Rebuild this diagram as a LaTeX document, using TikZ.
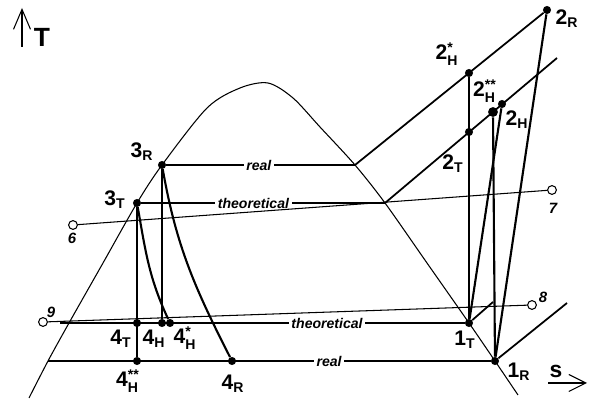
\documentclass[tikz,border=0pt]{standalone}
\usepackage{amsmath}
\usepackage{fontspec}
\setmainfont{Liberation Sans}
\usetikzlibrary{arrows.meta}

\newcommand{\ptlab}[2]{#1$_{\text{#2}}$}
\newcommand{\ptlabs}[3]{#1$_{\text{#2}}^{\text{#3}}$}

\begin{document}
\begin{tikzpicture}[x=0.2cm, y=0.2cm,
    pt/.style={circle, fill, inner sep=0pt, minimum size=4.6pt},
    bigpt/.style={circle, fill, inner sep=0pt, minimum size=5.6pt},
    opt/.style={circle, draw, fill=white, inner sep=0pt, minimum size=5pt, line width=0.6pt},
    lab/.style={font=\bfseries\fontsize{12}{14}\selectfont, inner sep=0pt},
    num/.style={font=\bfseries\itshape\fontsize{8.5}{10}\selectfont, inner sep=0pt},
    tag/.style={font=\bfseries\itshape\fontsize{8}{10}\selectfont, fill=white, inner sep=1.5pt},
    cyc/.style={line width=1.2pt},
    iso/.style={line width=1pt},
    fine/.style={line width=0.6pt}]
    \useasboundingbox (0,0) rectangle (58.9,40);

    % axes
    \draw[fine, -{Straight Barb[length=4mm, width=3.4mm]}] (2.2,35.3) -- (2.2,39.2);
    \node[lab, font=\bfseries\fontsize{15}{17}\selectfont] (Tax) at (4.2,36.3) {T};
    \draw[fine, -{Straight Barb[length=3.4mm, width=3.4mm]}] (54.8,1.7) -- (58.7,1.7);
    \node[lab, font=\bfseries\fontsize{13}{15}\selectfont] (sax) at (55.6,2.9) {s};

    % saturation dome
    \draw[fine] plot[smooth] coordinates {(2.9,0.2) (4.8,3.9) (6.9,7.7) (10.3,13.7) (13.7,19.7)
        (16.2,23.5) (20.7,29.2) (24.0,31.2) (26.8,31.7) (29.3,30.2) (32.0,27.3) (35.5,23.5)
        (38.5,19.7) (42.7,13.7) (46.9,7.7) (49.5,3.9) (51.8,0.5)};

    % state points
    \node[pt] (3R) at (16.2,23.5) {};
    \node[pt] (3T) at (13.7,19.7) {};
    \node[pt] (4T) at (13.7,7.7) {};
    \node[pt] (4H) at (16.2,7.7) {};
    \node[pt] (4Hs) at (17.0,7.7) {};
    \node[pt] (4Hss) at (13.7,3.9) {};
    \node[pt] (4R) at (23.2,3.9) {};
    \node[pt] (1T) at (46.9,7.7) {};
    \node[pt] (1R) at (49.5,3.9) {};
    \node[pt] (2T) at (46.9,26.8) {};
    \node[pt] (2Hs) at (46.9,32.7) {};
    \node[bigpt] (2Hss) at (49.3,28.8) {};
    \node[pt] (2H) at (50.2,29.6) {};
    \node[pt] (2R) at (54.7,39.0) {};
    \coordinate (d1) at (35.5,23.5);
    \coordinate (d2) at (38.5,19.7);
    \coordinate (e1) at (49.3,9.8);
    \coordinate (e2) at (55.7,34.2);
    \coordinate (e3) at (56.7,9.7);
    \coordinate (a1) at (4.8,3.9);
    \coordinate (a2) at (6.0,7.7);

    % isobars
    \draw[cyc] (3R) -- node[tag, pos=0.49] (real1) {real} (d1);
    \draw[cyc] (3T) -- node[tag, pos=0.46] (theo1) {theoretical} (d2);
    \draw[cyc] (a2) -- node[tag, pos=0.66] (theo2) {theoretical} (1T);
    \draw[cyc] (a1) -- node[tag, pos=0.635] (real2) {real} (1R);
    \draw[iso] (d1) -- (2R);
    \draw[iso] (d2) -- (e2);
    \draw[iso] (1T) -- (e1);
    \draw[iso] (1R) -- (e3);

    % compression and expansion
    \draw[cyc] (1T) -- (2Hs);
    \draw[cyc] (1T) -- (2H);
    \draw[cyc] (1R) -- (2Hss);
    \draw[cyc] (1R) -- (2R);
    \draw[cyc] (3T) -- (4Hss);
    \draw[cyc] (3R) -- (4H);
    \draw[cyc] (3T) to[out=-80, in=115] (4Hs);
    \draw[cyc] (3R) to[out=-80, in=117] (4R);

    % cooling media
    \node[opt] (p6) at (7.3,17.5) {};
    \node[opt] (p7) at (55.2,21.0) {};
    \node[opt] (p9) at (4.3,7.8) {};
    \node[opt] (p8) at (53.2,9.5) {};
    \draw[fine] (p6) -- (p7);
    \draw[fine] (p9) -- (p8);
    \node[num] (n6) at (7.2,16.2) {6};
    \node[num] (n7) at (55.3,19.2) {7};
    \node[num] (n8) at (54.3,10.3) {8};
    \node[num] (n9) at (5.1,8.8) {9};

    % labels
    \node[lab] (l3R) at (14.2,24.8) {\ptlab{3}{R}};
    \node[lab] (l3T) at (11.5,20.0) {\ptlab{3}{T}};
    \node[lab] (l4T) at (12.1,6.1) {\ptlab{4}{T}};
    \node[lab] (l4H) at (15.4,6.1) {\ptlab{4}{H}};
    \node[lab] (l4Hs) at (18.5,6.2) {\ptlabs{4}{H}{*}};
    \node[lab] (l4Hss) at (12.8,1.9) {\ptlabs{4}{H}{**}};
    \node[lab] (l4R) at (23.3,1.6) {\ptlab{4}{R}};
    \node[lab] (l1T) at (46.5,6.0) {\ptlab{1}{T}};
    \node[lab] (l1R) at (51.9,2.8) {\ptlab{1}{R}};
    \node[lab] (l2R) at (56.7,38.1) {\ptlab{2}{R}};
    \node[lab] (l2Hs) at (44.7,34.6) {\ptlabs{2}{H}{*}};
    \node[lab] (l2Hss) at (48.5,30.9) {\ptlabs{2}{H}{**}};
    \node[lab] (l2H) at (51.7,28.0) {\ptlab{2}{H}};
    \node[lab] (l2T) at (45.3,23.6) {\ptlab{2}{T}};
\end{tikzpicture}
\end{document}
